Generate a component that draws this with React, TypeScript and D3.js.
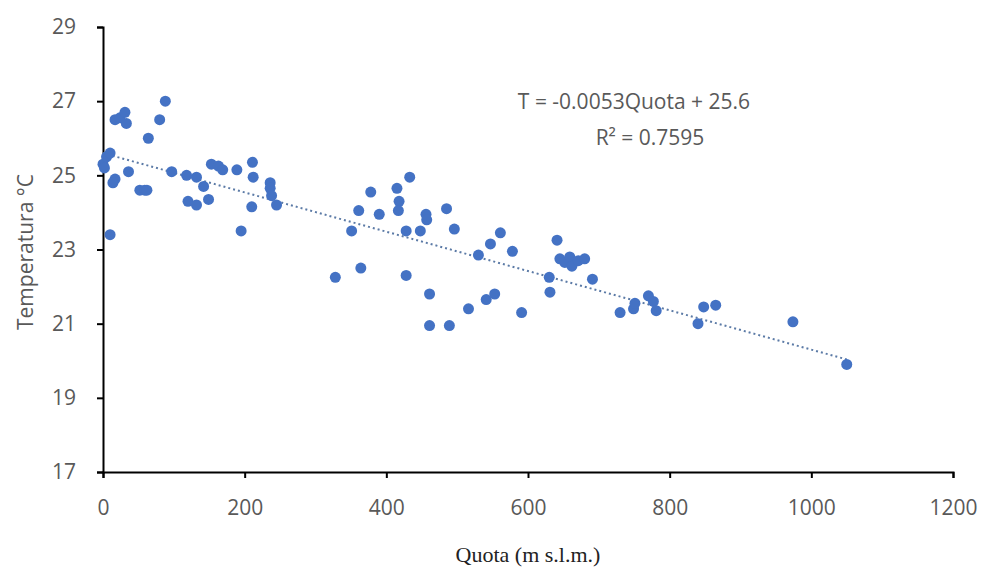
import React, { useEffect, useRef } from 'react';
import * as d3 from 'd3';

// altitude (m s.l.m.) and temperature (°C) of each station
const quota = [
  0, 2, 5, 10, 10, 17, 14, 36, 17, 24, 31, 33, 64, 80, 88, 52, 59, 62,
  97, 118, 132, 142, 149, 120, 132, 153, 163, 169, 189, 211, 212, 210, 195,
  236, 236, 238, 245, 328, 351, 361, 364, 378, 390, 418, 415, 417, 428, 433,
  428, 448, 456, 457, 461, 461, 485, 489, 496, 516, 530, 541, 547, 553, 561,
  578, 591, 630, 631, 641, 645, 652, 659, 662, 671, 680, 691, 730, 749, 751,
  770, 777, 781, 840, 848, 865, 974, 1050,
];
const temperatura = [
  25.3, 25.2, 25.5, 25.6, 23.4, 24.9, 24.8, 25.1, 26.5, 26.55, 26.7, 26.4,
  26.0, 26.5, 27.0, 24.6, 24.6, 24.6, 25.1, 25.0, 24.95, 24.7, 24.35, 24.3,
  24.2, 25.3, 25.25, 25.15, 25.15, 25.35, 24.95, 24.15, 23.5, 24.8, 24.65,
  24.45, 24.2, 22.25, 23.5, 24.05, 22.5, 24.55, 23.95, 24.3, 24.65, 24.05,
  23.5, 24.95, 22.3, 23.5, 23.95, 23.8, 21.8, 20.95, 24.1, 20.95, 23.55,
  21.4, 22.85, 21.65, 23.15, 21.8, 23.45, 22.95, 21.3, 22.25, 21.85, 23.25,
  22.75, 22.65, 22.8, 22.55, 22.7, 22.75, 22.2, 21.3, 21.4, 21.55, 21.75,
  21.6, 21.35, 21.0, 21.45, 21.5, 21.05, 19.9,
];

const xTicks = [0, 200, 400, 600, 800, 1000, 1200];
const yTicks = [17, 19, 21, 23, 25, 27, 29];

// trendline coefficients and the range it is drawn over
const slope = -0.0053;
const intercept = 25.6;
const trendRange = [0, 1050];

const equationLabel = 'T = -0.0053Quota + 25.6';
const r2Label = 'R² = 0.7595';

const App: React.FC = () => {
  const svgRef = useRef<SVGSVGElement>(null);

  useEffect(() => {
    if (!svgRef.current) return;

    const width = 985;
    const height = 574;
    const margin = { top: 27, right: 32, bottom: 102, left: 103 };
    const innerW = width - margin.left - margin.right;
    const innerH = height - margin.top - margin.bottom;

    const svg = d3.select(svgRef.current);
    svg.selectAll('*').remove();

    const g = svg.append('g').attr('transform', `translate(${margin.left},${margin.top})`);

    const xScale = d3.scaleLinear().domain([0, 1200]).range([0, innerW]);
    const yScale = d3.scaleLinear().domain([17, 29]).range([innerH, 0]);

    const sans = "'Open Sans', 'Noto Sans', sans-serif";

    // --- axes ---
    const gx = g.append('g')
      .attr('transform', `translate(0,${innerH})`)
      .call(d3.axisBottom(xScale).tickValues(xTicks).tickFormat(d3.format('d')).tickSize(6).tickPadding(22));
    const gy = g.append('g')
      .call(d3.axisLeft(yScale).tickValues(yTicks).tickSize(6).tickPadding(21));

    [gx, gy].forEach(ax => {
      ax.select('.domain').attr('stroke', '#000').attr('stroke-width', 2);
      ax.selectAll('.tick line').attr('stroke', '#000').attr('stroke-width', 2);
      ax.selectAll('.tick text')
        .attr('fill', '#595959')
        .attr('font-family', sans)
        .attr('font-size', '21px');
    });

    // --- axis titles ---
    svg.append('text')
      .attr('x', 528)
      .attr('y', 562)
      .attr('text-anchor', 'middle')
      .attr('font-family', "'Liberation Serif', 'DejaVu Serif', serif")
      .attr('font-size', '22px')
      .attr('fill', '#222')
      .text('Quota (m s.l.m.)');

    svg.append('text')
      .attr('transform', `translate(33,${252}) rotate(-90)`)
      .attr('text-anchor', 'middle')
      .attr('font-family', sans)
      .attr('font-size', '21px')
      .attr('fill', '#595959')
      .text('Temperatura °C');

    // --- trendline ---
    g.append('line')
      .attr('x1', xScale(trendRange[0])).attr('y1', yScale(intercept + slope * trendRange[0]))
      .attr('x2', xScale(trendRange[1])).attr('y2', yScale(intercept + slope * trendRange[1]))
      .attr('stroke', '#5b7aa6')
      .attr('stroke-width', 2)
      .attr('stroke-dasharray', '2,3');

    // --- points ---
    g.selectAll('circle.pt')
      .data(quota.map((q, i) => ({ q, t: temperatura[i] })))
      .enter()
      .append('circle')
      .attr('class', 'pt')
      .attr('cx', d => xScale(d.q))
      .attr('cy', d => yScale(d.t))
      .attr('r', 5.5)
      .attr('fill', '#4472c4');

    // --- equation label ---
    svg.append('text')
      .attr('x', 634).attr('y', 109)
      .attr('text-anchor', 'middle')
      .attr('font-family', sans).attr('font-size', '21px').attr('fill', '#595959')
      .text(equationLabel);
    svg.append('text')
      .attr('x', 650).attr('y', 145)
      .attr('text-anchor', 'middle')
      .attr('font-family', sans).attr('font-size', '21px').attr('fill', '#595959')
      .text(r2Label);
  }, []);

  return (
    <div style={{ position: 'absolute', left: 0, top: 0, background: '#fff' }}>
      <svg ref={svgRef} width={985} height={574} style={{ display: 'block' }}></svg>
    </div>
  );
};

export default App;
